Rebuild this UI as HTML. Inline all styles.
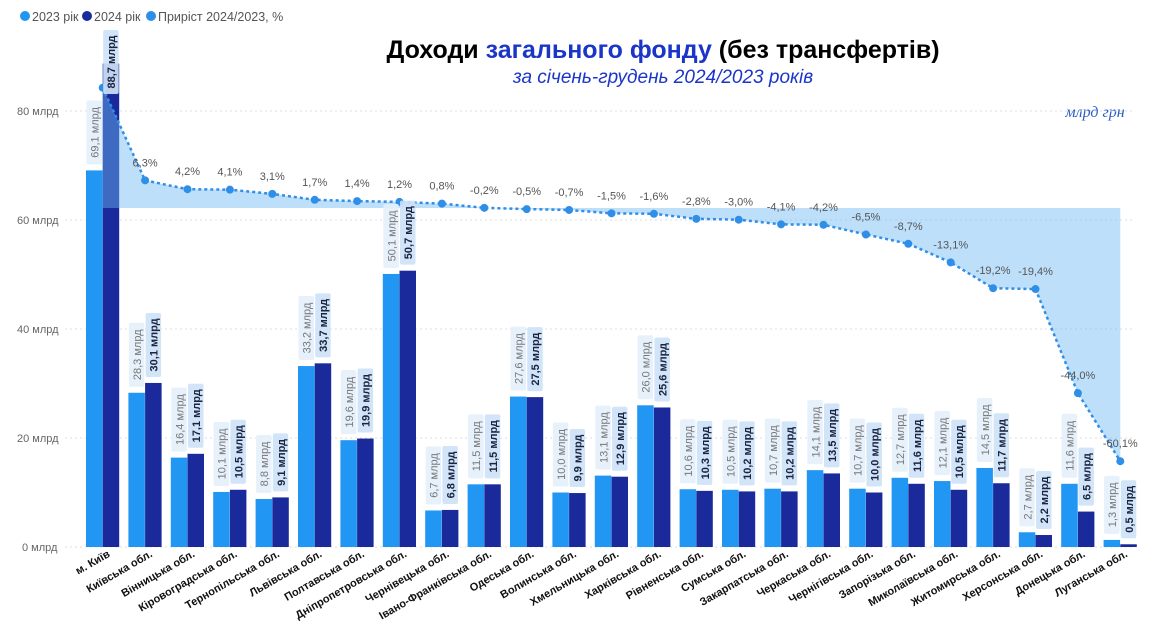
<!DOCTYPE html>
<html><head><meta charset="utf-8"><style>
html,body{margin:0;padding:0;background:#fff;width:1152px;height:643px;overflow:hidden}
svg{display:block;font-family:"Liberation Sans","DejaVu Sans",sans-serif}
</style></head><body>
<svg id="s" width="1152" height="643" viewBox="0 0 1152 643" xmlns="http://www.w3.org/2000/svg">
<g font-size="12.5" fill="#555">
<circle cx="25" cy="16" r="5" fill="#2196f3"/><text x="32" y="21">2023 рік</text>
<circle cx="87" cy="16" r="5" fill="#1a2a9a"/><text x="94" y="21">2024 рік</text>
<circle cx="151" cy="16" r="5" fill="#2f8fe8"/><text x="158" y="21">Приріст 2024/2023, %</text>
</g>
<text x="663" y="58" text-anchor="middle" font-size="25" font-weight="bold" fill="#000">Доходи <tspan fill="#1a35c8">загального фонду</tspan> (без трансфертів)</text>
<text x="663" y="83" text-anchor="middle" font-size="19" font-style="italic" fill="#1a35c8">за січень-грудень 2024/2023 років</text>
<text x="1095" y="117" text-anchor="middle" font-size="16" font-style="italic" font-family="Liberation Serif,serif" fill="#2a5bc8">млрд грн</text>
<g font-size="11" fill="#666">
<text x="17" y="115">80 млрд</text><text x="17" y="224">60 млрд</text><text x="17" y="333">40 млрд</text><text x="17" y="442">20 млрд</text><text x="22" y="551">0 млрд</text>
</g>
<g stroke="#ddd" stroke-dasharray="2,3">
<line x1="65" x2="1135" y1="111" y2="111"/><line x1="65" x2="1135" y1="220" y2="220"/><line x1="65" x2="1135" y1="329" y2="329"/><line x1="65" x2="1135" y1="438" y2="438"/><line x1="65" x2="1135" y1="547" y2="547"/>
</g>
<g id="g"></g>
</svg>
<script>
var D=[["м. Київ",69.1,88.7,28.2,""],["Київська обл.",28.3,30.1,6.3,"6,3%"],["Вінницька обл.",16.4,17.1,4.2,"4,2%"],["Кіровоградська обл.",10.1,10.5,4.1,"4,1%"],["Тернопільська обл.",8.8,9.1,3.1,"3,1%"],["Львівська обл.",33.2,33.7,1.7,"1,7%"],["Полтавська обл.",19.6,19.9,1.4,"1,4%"],["Дніпропетровська обл.",50.1,50.7,1.2,"1,2%"],["Чернівецька обл.",6.7,6.8,0.8,"0,8%"],["Івано-Франківська обл.",11.5,11.5,-0.2,"-0,2%"],["Одеська обл.",27.6,27.5,-0.5,"-0,5%"],["Волинська обл.",10.0,9.9,-0.7,"-0,7%"],["Хмельницька обл.",13.1,12.9,-1.5,"-1,5%"],["Харківська обл.",26.0,25.6,-1.6,"-1,6%"],["Рівненська обл.",10.6,10.3,-2.8,"-2,8%"],["Сумська обл.",10.5,10.2,-3.0,"-3,0%"],["Закарпатська обл.",10.7,10.2,-4.1,"-4,1%"],["Черкаська обл.",14.1,13.5,-4.2,"-4,2%"],["Чернігівська обл.",10.7,10.0,-6.5,"-6,5%"],["Запорізька обл.",12.7,11.6,-8.7,"-8,7%"],["Миколаївська обл.",12.1,10.5,-13.1,"-13,1%"],["Житомирська обл.",14.5,11.7,-19.2,"-19,2%"],["Херсонська обл.",2.7,2.2,-19.4,"-19,4%"],["Донецька обл.",11.6,6.5,-44.0,"-44,0%"],["Луганська обл.",1.3,0.5,-60.1,"-60,1%"]];
var h="",ov="",pts=[];
function f(v){return v.toFixed(1).replace(".",",")+" млрд"}
function Y(v){return 547-v*5.45}
function P(p){return 207-p*4.23}
D.forEach(function(d,i){
 var x=86+i*42.4,cx=x+16.7;
 var y1=Y(d[1]),y2=Y(d[2]);
 h+='<rect x="'+x+'" y="'+y1+'" width="16.5" height="'+(547-y1)+'" fill="#2196f3"/>';
 h+='<rect x="'+(x+16.7)+'" y="'+y2+'" width="16.5" height="'+(547-y2)+'" fill="#1a2a9a"/>';
 [[x,y1,d[1],"#e4f0fb","#777","normal"],[x+16.7,y2,d[2],"#cde2f7","#1a2340","bold"]].forEach(function(b){
  var bh=b[2]>=10?64:58,bot=b[1]-6,top=bot-bh;
  if(top<30){top=30;bot=top+bh}
  ov+='<rect x="'+(b[0]+0.5)+'" y="'+top+'" width="15.5" height="'+bh+'" rx="2" fill="'+b[3]+'" opacity="0.92"/>';
  var tx=b[0]+12.5,ty=(top+bot)/2;
  ov+='<text transform="translate('+tx+','+ty+') rotate(-90)" text-anchor="middle" font-size="11" font-weight="'+b[5]+'" fill="'+b[4]+'">'+f(b[2])+'</text>';
 });
 var py=P(d[3]);pts.push([cx,py]);
 if(d[4])ov+='<text x="'+cx+'" y="'+(py-14)+'" text-anchor="middle" font-size="11" fill="#555">'+d[4]+'</text>';
 h+='<text transform="translate('+(cx+8)+',556) rotate(-30)" text-anchor="end" font-size="11" font-weight="bold" fill="#111">'+d[0]+'</text>';
});
var poly="M"+pts[0][0]+",208 ";pts.forEach(function(p){poly+="L"+p[0]+","+p[1]+" "});poly+="L"+pts[pts.length-1][0]+",208 Z";
var ln="M";pts.forEach(function(p,i){ln+=(i?"L":"")+p[0]+","+p[1]+" "});
var s='<path d="'+poly+'" fill="#6db8f5" opacity="0.45"/>';
s+='<path d="'+ln+'" fill="none" stroke="#2f8fe8" stroke-width="2.5" stroke-dasharray="3,3"/>';
pts.forEach(function(p){s+='<circle cx="'+p[0]+'" cy="'+p[1]+'" r="4" fill="#2f8fe8"/>'});
document.getElementById("g").innerHTML=h+s+ov;
</script>
</body></html>
